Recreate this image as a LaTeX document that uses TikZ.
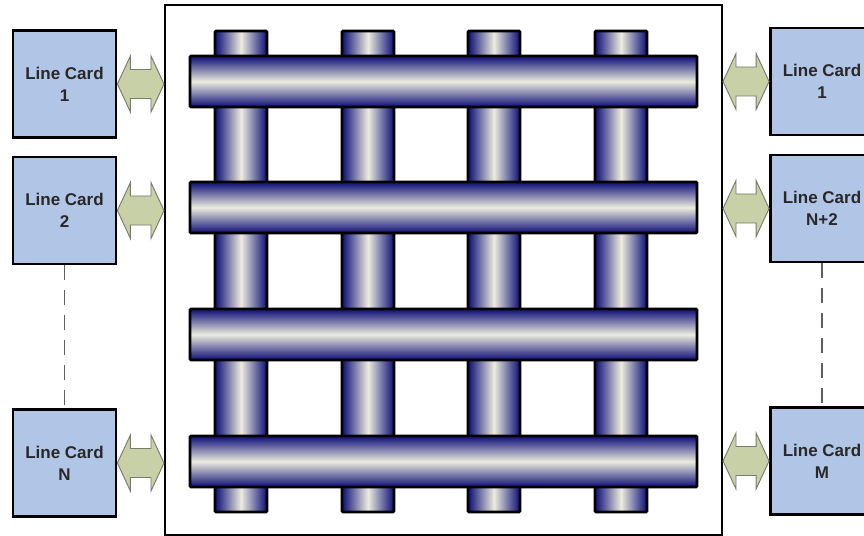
\documentclass[tikz,border=0pt]{standalone}
\usepackage{fontspec}
\setmainfont{Liberation Sans}
\usetikzlibrary{calc,positioning}
\definecolor{cardblue}{RGB}{177,197,230}
\definecolor{cardtext}{RGB}{40,40,40}
\definecolor{linkgreen}{RGB}{200,208,168}
\definecolor{linkedge}{RGB}{120,124,108}
\definecolor{pipeblue}{RGB}{30,30,128}
\definecolor{pipelight}{RGB}{236,236,222}
\definecolor{dashgray}{RGB}{95,95,95}
\pgfdeclarehorizontalshading{pipecol}{100bp}{color(0bp)=(pipeblue); color(27bp)=(pipeblue);
  color(50bp)=(pipelight); color(73bp)=(pipeblue); color(100bp)=(pipeblue)}
\pgfdeclareverticalshading{pipebar}{100bp}{color(0bp)=(pipeblue); color(27bp)=(pipeblue);
  color(50bp)=(pipelight); color(73bp)=(pipeblue); color(100bp)=(pipeblue)}
% block double arrow between two tips on one level
\newcommand{\linkarrow}[2]{%
  \draw[link] (#1) -- ($(#1)+(13,-28)$) -- ($(#1)+(13,-14.5)$) -- ($(#2)+(-13,-14.5)$)
    -- ($(#2)+(-13,-28)$) -- (#2) -- ($(#2)+(-13,28)$) -- ($(#2)+(-13,14.5)$)
    -- ($(#1)+(13,14.5)$) -- ($(#1)+(13,28)$) -- cycle;}

\begin{document}
\begin{tikzpicture}[x=0.03cm, y=-0.03cm,
    card/.style={draw, line width=2.4pt, fill=cardblue, minimum width=3.09cm,
                 minimum height=3.21cm, align=center, text=cardtext,
                 font=\bfseries\fontsize{14.5}{18.7}\selectfont},
    link/.style={draw=linkedge, line width=0.8pt, fill=linkgreen, line join=miter},
    column/.style={draw, line width=2.4pt, rounded corners=1pt, inner sep=0pt,
                   minimum width=1.56cm, minimum height=14.43cm, shading=pipecol},
    bar/.style={draw, line width=2.4pt, rounded corners=1pt, inner sep=0pt,
                minimum width=15.21cm, minimum height=1.53cm, shading=pipebar},
    dashline/.style={draw=dashgray, line width=0.9pt, dash pattern=on 0.45cm off 0.3cm}]
  \path[use as bounding box, clip] (0,0) rectangle (864,536);

  % switch fabric
  \node[draw, line width=1.7pt, inner sep=0pt, minimum width=16.71cm,
        minimum height=15.9cm] (frame) at (443.5,270) {};
  \foreach \x [count=\i] in {241,368,494,621}
    \node[column] (col\i) at (\x,271.5) {};
  \foreach \y [count=\i] in {81.5,207.5,334.5,461.5}
    \node[bar] (bar\i) at (443.5,\y) {};

  % line cards
  \node[card] (lc1) at (64.5,84) {Line Card\\1};
  \node[card] (lc2) at (64.5,210.5) {Line Card\\2};
  \node[card] (lcN) at (64.5,463) {Line Card\\N};
  \node[card] (rc1) at (822,81.5) {Line Card\\1};
  \node[card] (rcN2) at (822,208.5) {Line Card\\N+2};
  \node[card] (rcM) at (822,461) {Line Card\\M};

  \draw[dashline] (lc2) -- (lcN);
  \draw[dashline] (rcN2) -- (rcM);

  % links to the fabric
  \foreach \c in {lc1,lc2,lcN} {
    \coordinate (\c-in) at (\c.east -| frame.west);
    \linkarrow{\c.east}{\c-in}
  }
  \foreach \c in {rc1,rcN2,rcM} {
    \coordinate (\c-in) at (\c.west -| frame.east);
    \linkarrow{\c-in}{\c.west}
  }
\end{tikzpicture}
\end{document}
